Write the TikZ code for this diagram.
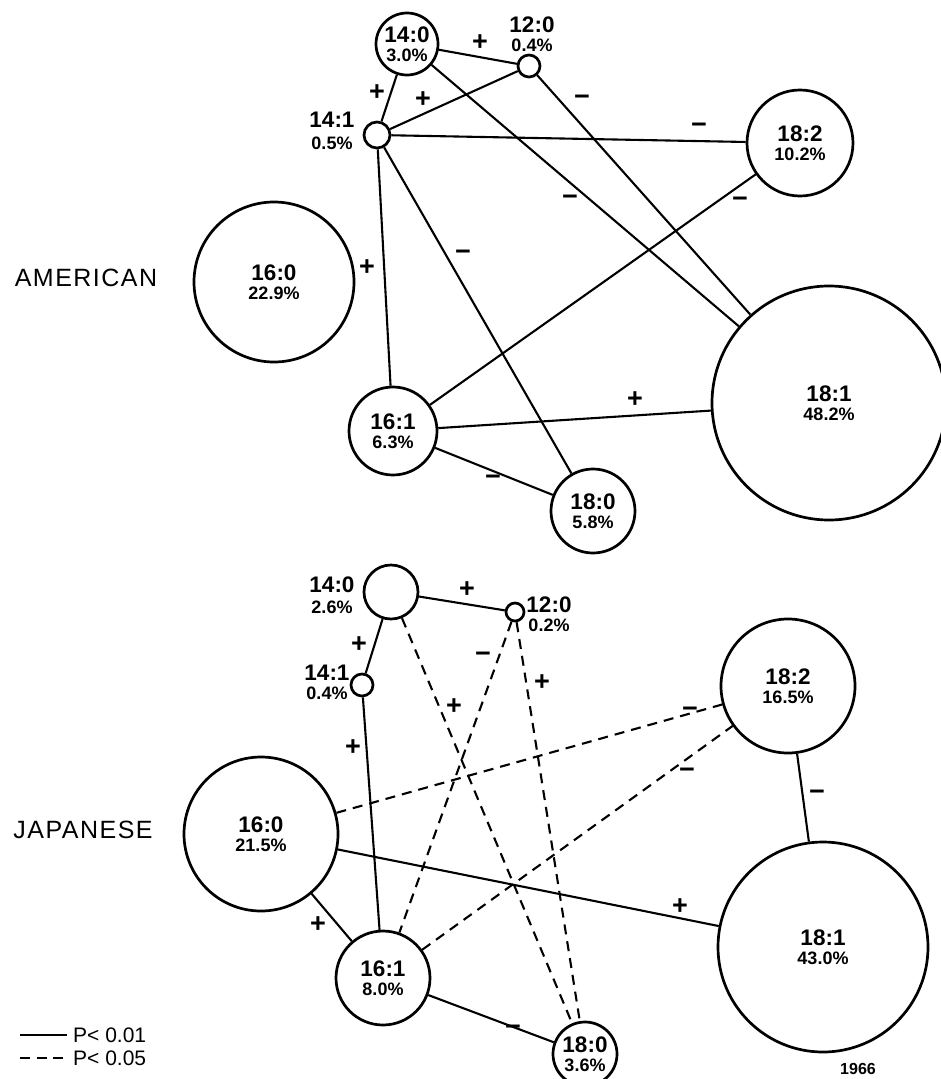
\documentclass[tikz,border=0pt]{standalone}
\usepackage{fontspec}
\setmainfont{Liberation Sans}
\newcommand{\facid}[2]{#1\\[-3pt]{\fontsize{18}{22}\selectfont #2}}
\tikzset{
  fa/.style={circle, draw, line width=2.7pt, inner sep=0pt, align=center, fill=white,
    font=\fontsize{22.5}{22}\selectfont\bfseries},
  edge/.style={line width=2.1pt},
  dedge/.style={line width=2.1pt, dash pattern=on 10pt off 7pt},
  sgn/.style={font=\fontsize{27}{27}\selectfont\bfseries, inner sep=0pt},
  nmtxt/.style={font=\fontsize{22.5}{22}\selectfont\bfseries, inner sep=0pt},
  pctxt/.style={font=\fontsize{18}{18}\selectfont\bfseries, inner sep=0pt},
  grp/.style={font=\fontsize{25}{25}\selectfont\addfontfeature{LetterSpace=6}, inner sep=0pt},
  leg/.style={font=\fontsize{21}{21}\selectfont, inner sep=0pt, anchor=west}
}
\begin{document}
\begin{tikzpicture}[x=1pt, y=-1pt]
\useasboundingbox (0,0) rectangle (941,1079);
\fill[white] (0,0) rectangle (941,1079);

% ---------------- AMERICAN ----------------
\node[grp] (amer) at (86,278) {AMERICAN};
\node[fa, minimum size=62pt] (A140) at (407,44) {\facid{14:0}{3.0\%}};
\node[fa, minimum size=22pt] (A120) at (529,66) {};
\node[fa, minimum size=26pt] (A141) at (377,135) {};
\node[fa, minimum size=106pt] (A182) at (800,143) {\facid{18:2}{10.2\%}};
\node[fa, minimum size=160pt] (A160) at (274,282) {\facid{16:0}{22.9\%}};
\node[fa, minimum size=88pt] (A161) at (393,431) {\facid{16:1}{6.3\%}};
\node[fa, minimum size=234pt] (A181) at (829,403) {\facid{18:1}{48.2\%}};
\node[fa, minimum size=84pt] (A180) at (593,511) {\facid{18:0}{5.8\%}};

\node[nmtxt] (A120n) at (532,25) {12:0};
\node[pctxt] (A120p) at (532,45) {0.4\%};
\node[nmtxt] (A141n) at (332,120) {14:1};
\node[pctxt] (A141p) at (332,143) {0.5\%};

\draw[edge] (A140) -- (A120);
\draw[edge] (A140) -- (A141);
\draw[edge] (A141) -- (A120);
\draw[edge] (A141) -- (A182);
\draw[edge] (A140) -- (A181);
\draw[edge] (A120) -- (A181);
\draw[edge] (A182) -- (A161);
\draw[edge] (A141) -- (A161);
\draw[edge] (A141) -- (A180);
\draw[edge] (A161) -- (A181);
\draw[edge] (A161) -- (A180);

\node[sgn] (as1) at (480,43) {+};
\node[sgn] (as2) at (377,93) {+};
\node[sgn] (as3) at (423,100) {+};
\node[sgn] (as4) at (582,100) {−};
\node[sgn] (as5) at (699,128) {−};
\node[sgn] (as6) at (570,200) {−};
\node[sgn] (as7) at (740,202) {−};
\node[sgn] (as8) at (463,255) {−};
\node[sgn] (as9) at (367,268) {+};
\node[sgn] (as10) at (635,400) {+};
\node[sgn] (as11) at (493,480) {−};

% ---------------- JAPANESE ----------------
\node[grp] (jap) at (83,830) {JAPANESE};
\node[fa, minimum size=54pt] (J140) at (391,592) {};
\node[fa, minimum size=18pt] (J120) at (515,612) {};
\node[fa, minimum size=22pt] (J141) at (362,685) {};
\node[fa, minimum size=134pt] (J182) at (788,686) {\facid{18:2}{16.5\%}};
\node[fa, minimum size=154pt] (J160) at (261,834) {\facid{16:0}{21.5\%}};
\node[fa, minimum size=210pt] (J181) at (823,947) {\facid{18:1}{43.0\%}};
\node[fa, minimum size=94pt] (J161) at (383,978) {\facid{16:1}{8.0\%}};
\node[fa, minimum size=64pt] (J180) at (585,1054) {\facid{18:0}{3.6\%}};

\node[nmtxt] (J140n) at (332,585) {14:0};
\node[pctxt] (J140p) at (332,607) {2.6\%};
\node[nmtxt] (J120n) at (549,605) {12:0};
\node[pctxt] (J120p) at (549,625) {0.2\%};
\node[nmtxt] (J141n) at (327,673) {14:1};
\node[pctxt] (J141p) at (327,693) {0.4\%};

\draw[edge] (J140) -- (J120);
\draw[edge] (J140) -- (J141);
\draw[edge] (J141) -- (J161);
\draw[edge] (J160) -- (J161);
\draw[edge] (J160) -- (J181);
\draw[edge] (J182) -- (J181);
\draw[edge] (J161) -- (J180);
\draw[dedge] (J140) -- (J180);
\draw[dedge] (J120) -- (J161);
\draw[dedge] (J120) -- (J180);
\draw[dedge] (J160) -- (J182);
\draw[dedge] (J161) -- (J182);

\node[sgn] (js1) at (467,590) {+};
\node[sgn] (js2) at (359,645) {+};
\node[sgn] (js3) at (483,657) {−};
\node[sgn] (js4) at (542,683) {+};
\node[sgn] (js5) at (454,707) {+};
\node[sgn] (js6) at (353,748) {+};
\node[sgn] (js7) at (690,712) {−};
\node[sgn] (js8) at (687,773) {−};
\node[sgn] (js9) at (817,795) {−};
\node[sgn] (js10) at (680,907) {+};
\node[sgn] (js11) at (318,925) {+};
\node[sgn] (js12) at (513,1030) {−};

% ---------------- legend ----------------
\coordinate (l1a) at (20,1035);
\coordinate (l1b) at (67,1035);
\coordinate (l2a) at (20,1058);
\coordinate (l2b) at (67,1058);
\draw[edge] (l1a) -- (l1b);
\draw[line width=2.1pt, dash pattern=on 10pt off 6.5pt] (l2a) -- (l2b);
\node[leg] (leg1) at (73,1035) {P< 0.01};
\node[leg] (leg2) at (73,1058) {P< 0.05};
\node[font=\fontsize{16}{16}\selectfont\bfseries, inner sep=0pt] (year) at (858,1069) {1966};
\end{tikzpicture}
\end{document}
